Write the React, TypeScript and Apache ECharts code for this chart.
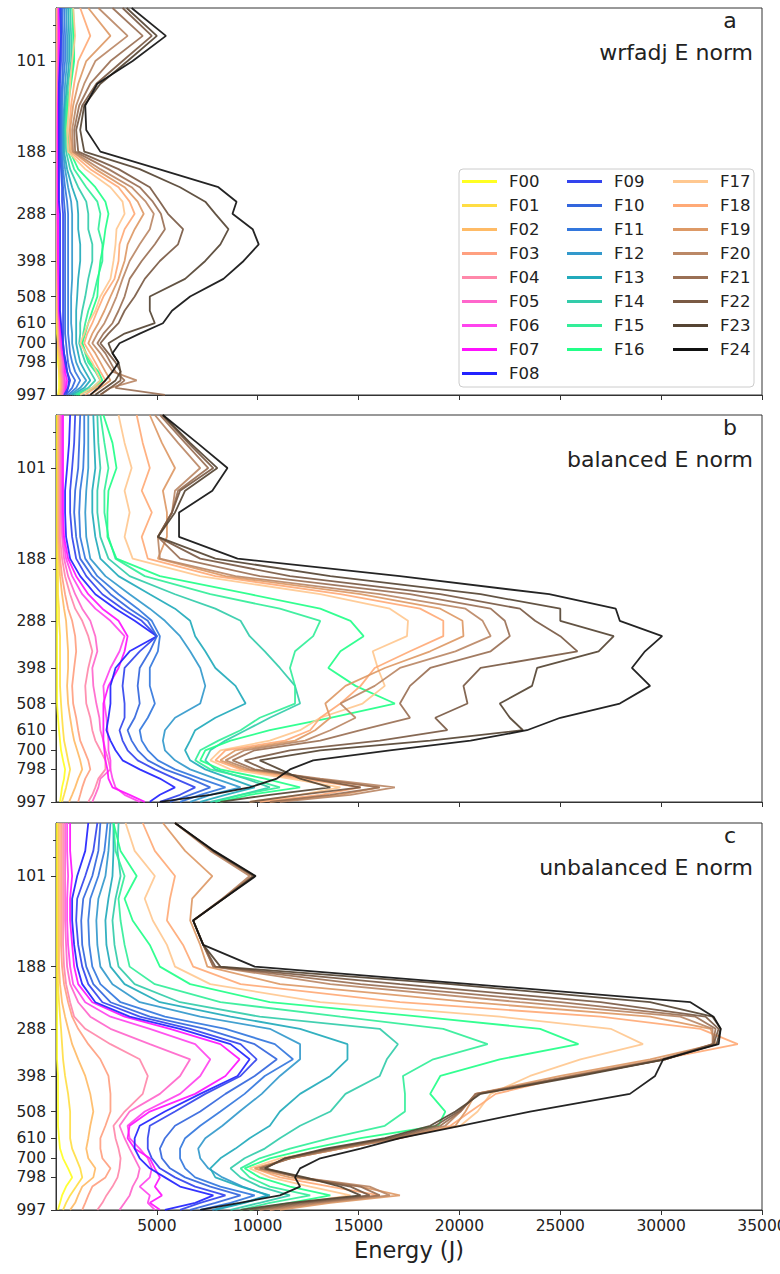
import React, { useEffect, useRef } from "react";
import * as echarts from "echarts";

// Pressure levels (hPa) at which each profile is sampled (top -> bottom)
const LEVELS = [70.2, 85, 101, 118, 137, 162, 188, 212, 240, 265, 288, 320, 355, 398, 450, 508, 560, 610, 655, 700, 750, 798, 850, 903, 950, 997];
const Y_LABELS = [101, 188, 288, 398, 508, 610, 700, 798, 903, 997];
const Y_MINOR = [79, 89, 202];
const X_TICKS = [5000, 10000, 15000, 20000, 25000, 30000, 35000];
const NAMES = ["F00","F01","F02","F03","F04","F05","F06","F07","F08","F09","F10","F11","F12","F13","F14","F15","F16","F17","F18","F19","F20","F21","F22","F23","F24"];
const COLORS = ["#ffff22","#ffdd44","#ffbb66","#ffa080","#ff88aa","#ff66cc","#ff44ee","#ff11ff","#2222ff","#3344ee","#3366dd","#3377dd","#3399cc","#22aabb","#33ccaa","#33ee99","#22ff88","#ffc890","#ffaa77","#dd9966","#bb8866","#9a7055","#7a5a44","#554433","#111111"];
const PANEL_LETTERS = ["a", "b", "c"];
const PANEL_TITLES = ["wrfadj E norm", "balanced E norm", "unbalanced E norm"];

// Panel a: wrfadj E norm (J), one row per forecast F00..F24
const WRFADJ = [
  [50,50,50,50,50,50,50,50,50,50,50,50,50,50,50,50,50,50,50,100,100,100,150,150,150,100],
  [50,50,50,50,50,50,50,50,50,50,50,50,50,50,50,50,50,50,100,100,100,150,150,200,200,150],
  [50,50,50,50,50,50,50,50,50,50,50,50,50,50,50,50,50,100,100,100,150,200,200,250,250,200],
  [50,50,50,50,50,50,50,50,50,50,50,50,50,50,50,100,100,100,150,150,200,250,250,300,300,250],
  [100,100,100,100,50,50,50,50,50,50,50,50,50,100,100,100,100,150,150,200,250,300,300,350,350,300],
  [100,100,100,100,100,50,50,50,50,50,50,100,100,100,100,100,150,150,200,200,300,350,350,400,400,350],
  [150,150,150,100,100,100,100,100,100,100,100,100,100,100,100,150,150,200,200,250,300,400,400,450,450,400],
  [150,150,150,150,100,100,100,100,100,100,100,100,100,100,150,150,150,200,250,300,350,450,450,550,500,450],
  [250,250,200,150,150,150,150,150,150,150,200,200,200,200,200,200,200,250,300,350,400,500,550,650,600,500],
  [200,250,250,200,200,200,200,250,300,300,350,350,350,350,350,350,350,350,350,350,400,450,550,700,600,400],
  [300,350,350,300,250,250,250,300,350,400,450,450,450,450,450,450,450,450,450,500,550,600,700,950,800,500],
  [400,450,450,350,300,300,300,350,450,550,600,600,600,600,600,600,600,600,600,650,700,800,950,1200,1000,600],
  [500,550,550,450,400,350,350,450,600,750,800,800,800,800,800,750,750,750,800,800,900,1000,1200,1500,1200,700],
  [600,650,650,550,450,400,400,550,800,1050,1100,1100,1200,1200,1100,1050,1000,1000,1000,1000,1100,1200,1450,1700,1400,800],
  [700,750,750,600,500,450,500,700,1100,1500,1600,1600,1800,1800,1600,1450,1300,1200,1200,1150,1300,1450,1700,1950,1600,900],
  [800,850,850,700,550,500,600,900,1500,2050,2200,2100,2300,2300,2050,1850,1600,1450,1350,1300,1450,1600,1950,2200,1800,1000],
  [850,900,900,750,600,550,700,1100,1950,2450,2600,2450,2350,2200,2100,2050,1800,1600,1450,1300,1500,1700,2100,2300,1950,1100],
  [850,950,800,700,650,550,600,1450,2700,3300,3400,3000,2950,2850,2700,2200,1950,1600,1400,1200,1500,1800,2000,2200,1800,1200],
  [1200,1700,1100,900,750,650,700,1700,3100,3650,3900,3400,3150,3100,2900,2350,2050,1800,1550,1400,1700,1950,2200,2450,1950,1450],
  [1600,2700,1500,1100,850,700,800,1950,3400,4050,4350,3900,3550,3400,3100,2700,2400,2100,1800,1600,1950,2200,2450,2700,2200,1700],
  [2100,3550,1950,1400,1000,800,850,2200,3750,4450,4850,4650,4150,3650,3300,3000,2700,2400,2050,1800,2200,2500,2800,4000,2700,2200],
  [2800,4300,2700,1700,1150,900,950,2600,4150,4800,5200,5400,4900,4250,3650,3400,3100,2800,2350,2050,2450,2700,2950,3400,2950,5400],
  [3300,4750,3300,2000,1300,1000,1100,3100,4650,5150,5550,6300,6050,5150,4400,3900,3400,3100,2600,2200,2600,2950,3200,3200,2700,2200],
  [3500,5000,3550,2200,1400,1200,1400,4150,6150,7400,7900,8550,8150,7400,6400,4650,4650,4900,3400,2600,2800,3100,3200,2950,2450,1950],
  [3750,5450,3800,2050,1450,1500,2200,5100,8050,8950,8750,9750,10050,9300,8300,6650,5750,5300,4150,3150,2800,3100,2800,2450,2100,1700],
];

// Panel b: balanced E norm (J)
const BALANCED = [
  [50,50,50,50,50,50,50,50,50,50,50,50,50,50,50,50,100,150,200,250,350,450,400,300,250,200],
  [100,100,100,100,100,100,100,100,100,150,150,200,200,200,200,250,300,350,400,500,600,700,600,500,400,300],
  [100,100,100,100,100,100,150,200,300,400,500,550,600,600,550,600,700,800,900,1050,1200,1300,1100,950,800,650],
  [150,150,150,150,150,150,200,300,450,600,800,950,1000,900,800,850,1000,1100,1200,1400,1600,1700,1450,1300,1200,1100],
  [200,200,200,200,200,200,300,450,700,950,1300,1600,1800,1600,1450,1500,1700,1800,1950,2200,2450,2450,2100,1950,1800,1600],
  [250,250,250,250,250,300,400,600,950,1300,1700,1950,2050,1800,1850,2000,2150,2200,2350,2450,2600,2700,2200,2100,1950,1800],
  [300,300,300,300,300,350,500,800,1300,1950,2700,3400,3150,2700,2350,2400,2500,2550,2600,2600,2700,2700,2800,2950,3400,4150],
  [350,350,350,350,350,400,600,1000,1600,2300,3100,3550,3400,3100,2600,2350,2350,2350,2350,2400,2450,2550,2600,2800,3650,4400],
  [700,650,550,450,450,500,700,1200,1950,2950,3900,5000,3650,2950,2700,2700,2600,2500,2700,2950,3300,4150,5150,5900,5150,4650],
  [950,900,800,700,700,800,1000,1500,2300,3300,4250,5000,4150,3400,3300,3400,3400,3150,3300,3550,4050,4900,5900,6900,6150,5150],
  [1200,1150,1100,950,900,1000,1200,1800,2700,3650,4550,5000,4650,4150,4050,4150,3900,3550,3750,4050,4550,5400,6650,7650,6650,5650],
  [1400,1400,1350,1200,1150,1200,1450,2050,3100,4050,4750,5150,5050,4650,4650,4900,4550,4150,4250,4550,5050,5900,7150,8400,7150,6150],
  [1600,1600,1600,1500,1450,1500,1700,2450,3650,4650,5400,6150,6650,7150,7400,7150,5900,5400,5300,5400,5900,6650,7900,9150,7650,6650],
  [1850,1900,1950,1800,1800,1950,2200,3100,4650,5900,6650,6900,7400,7900,8900,9400,7900,6900,6650,6400,6650,7400,8650,9850,8400,7150],
  [2050,2100,2200,2050,2050,2200,2600,3650,5900,7900,9150,9600,10350,11100,11850,12100,10600,9400,8400,7650,7400,7900,9400,10600,9150,7650],
  [2200,2400,2600,2400,2400,2600,2950,4400,7650,11100,13100,12750,11850,11600,11850,11850,10100,9150,8050,7150,6900,7650,9600,11100,9150,7900],
  [2350,2800,3000,2600,2550,2550,3000,5150,9600,13100,14600,15250,14100,13500,14850,16800,13600,10600,8650,7400,7150,8150,10350,12100,9600,8150],
  [3100,3400,3750,3400,3650,3400,3800,7150,13100,16550,17450,17400,15700,15950,16300,15200,13100,12100,10600,8150,7650,8650,11600,14100,12100,9600],
  [4000,4300,4650,4250,4750,4250,4550,7900,14100,18050,19200,19200,17550,15800,15100,14100,13100,12600,11350,8400,7900,9150,12100,15100,13100,10100],
  [4650,5250,5900,5300,5500,5500,5050,8400,15100,19050,20150,20200,18550,16300,14350,13350,13600,12850,11850,8900,8150,9350,12600,16050,14100,10600],
  [4900,6050,7150,5900,5750,5050,5150,8900,16050,20300,21150,21550,19800,17050,15800,14100,14850,13600,12350,9350,8400,9600,13100,16800,14600,11100],
  [5150,6400,7550,6050,5750,5050,6150,10100,17550,21550,22250,22500,21550,18550,17550,17050,17550,15100,13100,9850,8750,9850,12850,16050,13600,10600],
  [5250,6550,7800,6150,5750,5050,7150,11600,19050,23000,23750,25000,25850,21050,20200,20400,18800,19400,16050,11600,9350,10350,12600,15100,12100,9600],
  [5300,6650,8000,6400,5900,5050,7900,13600,21050,25000,25000,27650,26900,23850,23600,22000,22500,23150,18550,13100,10100,11100,12100,13600,10600,8150],
  [5300,7000,8500,7750,6100,6100,9000,17050,24450,27750,27950,30050,29200,28550,29450,27950,25000,23350,20550,16550,12750,11600,10950,9600,7650,5150],
];

// Panel c: unbalanced E norm (J)
const UNBALANCED = [
  [50,50,50,50,50,50,50,50,50,50,50,50,50,100,100,100,100,150,200,350,600,800,500,300,200,100],
  [100,100,100,100,100,100,100,100,150,200,250,300,350,450,600,700,700,700,800,1000,1200,1300,1000,700,500,350],
  [150,150,150,150,150,150,150,200,300,450,600,800,1100,1450,1700,1850,1700,1600,1500,1600,1950,1850,1300,1100,950,700],
  [250,250,250,250,250,250,300,400,600,800,1100,1600,2200,2600,2700,2700,2450,2200,2200,2300,2700,2450,1800,1600,1450,1300],
  [350,350,350,350,350,350,400,500,700,900,1450,2700,4150,4550,4300,3400,2850,2950,3100,3200,3150,3050,2800,2500,2300,2050],
  [450,450,450,450,450,500,550,700,1100,1700,2700,4650,6650,6150,5150,3650,3150,3400,3650,3900,4150,4050,3800,3650,3400,3150],
  [550,550,600,550,550,600,700,850,1450,2700,4650,6900,7650,7150,6150,4400,3550,3650,4150,4550,4750,4650,4150,4650,4550,4900],
  [700,700,800,700,700,800,900,1100,1800,3400,5650,8150,9100,8400,6900,4650,3650,3550,3900,4650,4900,5150,4900,5250,4650,5150],
  [1600,1450,1050,800,800,900,1050,1300,1950,3650,6150,8650,9600,9000,7150,5400,4150,3900,3900,4150,4650,5400,6150,7800,6900,5400],
  [2050,1850,1450,1050,1000,1100,1300,1600,2300,4150,6650,9150,9950,9150,7400,5900,4650,4550,4550,4750,5150,5900,6900,8400,7150,6150],
  [2200,2100,1800,1350,1250,1300,1500,1850,2700,4650,7400,9850,10950,9850,8400,7150,5900,5400,5150,5250,5650,6400,7650,9150,7900,6650],
  [2550,2400,2100,1700,1600,1650,1800,2200,3200,5400,8400,10850,11750,10350,9350,8150,7150,6400,6150,6150,6400,6900,8150,9850,8650,7150],
  [2700,2600,2450,2100,2000,2050,2200,2800,4150,7150,10600,12100,12100,11100,10200,9100,8250,7400,7050,7150,7550,8250,9250,10500,9250,7750],
  [2850,2850,2800,2600,2450,2500,2700,3400,5150,8650,12100,14450,14450,13600,12100,11100,10600,9600,8900,8150,7650,7900,9150,10600,9350,7900],
  [3100,3050,3200,2950,2800,2900,3100,3900,6150,10100,16050,16950,16400,16050,14350,13600,12100,11100,10350,9350,8650,9150,10100,11600,10100,8650],
  [2850,2950,3400,3100,3200,3400,3650,4900,8150,14100,19200,21400,18700,17200,17300,17300,16300,13600,11600,10100,9150,9600,10600,12600,10600,9150],
  [2850,3200,4000,3400,3800,4650,5150,6650,10600,18050,24000,25900,22000,19050,18550,19300,18950,15100,12600,10600,9350,10100,11600,13600,11600,9600],
  [3450,3900,4900,4400,4800,5500,5900,7650,13100,22000,27500,29100,26000,23500,21550,20900,20050,16550,13600,11100,9600,10600,12600,14600,12100,10100],
  [4300,4900,5900,5650,5500,6300,6800,9150,17050,27000,31950,33800,29950,25500,21800,20550,19550,17050,14100,11600,9850,11100,13600,16050,13100,10600],
  [5300,6400,7750,6750,6650,7150,7500,11100,20550,29450,32450,32700,29450,25000,20800,20300,19800,17050,14100,11600,9850,11600,15100,17050,13600,11100],
  [5900,7650,9600,8250,6800,7300,7800,13600,23000,30950,32550,32550,29950,25500,20800,20050,19300,17050,14100,11600,10100,12100,15550,16550,13100,10600],
  [5900,7750,9750,8250,6800,7300,7800,15100,25000,31700,32700,32550,30200,25750,20800,20050,19050,16800,13850,11600,10100,12100,15100,16050,12600,10100],
  [5900,7800,9800,8300,6800,7300,7900,17050,27000,32200,32850,32600,30200,25750,20950,19950,18800,16550,13600,11350,10350,12100,14600,15550,12100,9600],
  [5900,7800,9850,8300,6800,7300,8150,19550,29450,32550,32950,32750,30200,26000,21050,19800,18550,16300,13350,11350,10350,12350,14100,15100,11600,9150],
  [5900,7850,9900,8300,6800,7300,9850,20550,31450,32600,32950,32850,30100,29700,28450,23500,20050,17050,15100,13100,12100,11850,12100,11100,9100,7150],
];

const PANELS = [WRFADJ, BALANCED, UNBALANCED];
const FONT = '"DejaVu Sans", "Liberation Sans", sans-serif';

const GRID_TOPS = [8, 415, 823];
const PANEL_H = 387;

export default function App() {
  const ref = useRef<HTMLDivElement>(null);
  useEffect(() => {
    document.body.style.margin = "0";
    if (!ref.current) return;
    const chart = echarts.init(ref.current, null, { renderer: "svg" });

    const grids = GRID_TOPS.map((t) => ({
      left: 56, right: 18, top: t, height: PANEL_H,
      show: true, borderColor: "#333", borderWidth: 1,
      containLabel: false, outerBoundsMode: "none",
    }));

    const xAxes = GRID_TOPS.map((_, i) => ({
      type: "value", gridIndex: i, min: 0, max: 35000,
      splitLine: { show: false },
      axisLine: { show: true, lineStyle: { color: "#333", width: 1 } },
      axisTick: { show: true, customValues: X_TICKS, length: 5, lineStyle: { color: "#333" } },
      axisLabel: {
        show: i === 2, customValues: X_TICKS, fontSize: 15.5, color: "#222", margin: 8,
        fontFamily: FONT, hideOverlap: false, showMinLabel: true, showMaxLabel: true,
        formatter: (v: number) => String(v),
      },
      name: i === 2 ? "Energy (J)" : "",
      nameLocation: "middle", nameGap: 28,
      nameTextStyle: { fontSize: 22.5, color: "#222", fontFamily: FONT },
    }));

    const yAxes: any[] = [];
    GRID_TOPS.forEach((_, i) => {
      yAxes.push({
        type: "log", logBase: 10, gridIndex: i, min: 70.2, max: 998, inverse: true,
        splitLine: { show: false }, minorTick: { show: false }, minorSplitLine: { show: false },
        axisLine: { show: true, lineStyle: { color: "#333", width: 1 } },
        axisTick: { show: true, customValues: Y_LABELS, length: 5, lineStyle: { color: "#333" } },
        axisLabel: {
          customValues: Y_LABELS, fontSize: 15.5, color: "#222", margin: 10, fontFamily: FONT,
          hideOverlap: false, showMinLabel: true, showMaxLabel: true,
          formatter: (v: number) => String(Math.round(v)),
        },
      });
    });
    GRID_TOPS.forEach((_, i) => {
      yAxes.push({
        type: "log", logBase: 10, gridIndex: i, min: 70.2, max: 998, inverse: true, position: "left",
        splitLine: { show: false }, minorTick: { show: false },
        axisLine: { show: false },
        axisTick: { show: true, customValues: Y_MINOR, length: 3, lineStyle: { color: "#333" } },
        axisLabel: { show: false },
      });
    });

    const series: any[] = [];
    PANELS.forEach((panel, pi) => {
      panel.forEach((vals, si) => {
        series.push({
          type: "line", name: NAMES[si], xAxisIndex: pi, yAxisIndex: pi,
          data: vals.map((v, k) => [v, LEVELS[k]]),
          showSymbol: false, symbol: "none", silent: true, clip: true,
          lineStyle: { width: 1.8, color: COLORS[si], opacity: 0.92 },
          itemStyle: { color: COLORS[si] },
          emphasis: { disabled: true },
        });
      });
    });

    const legendCommon = {
      orient: "vertical", top: 173, padding: 0, icon: "rect", itemWidth: 35, itemHeight: 3, itemGap: 7,
      selectedMode: false,
      textStyle: { fontSize: 16.5, color: "#222", fontFamily: FONT, lineHeight: 16, padding: [0, 0, 0, 7] },
    };
    const legends = [
      { ...legendCommon, left: 462, data: NAMES.slice(0, 9) },
      { ...legendCommon, left: 567, data: NAMES.slice(9, 17) },
      { ...legendCommon, left: 673, data: NAMES.slice(17) },
    ];

    const graphics: any[] = [
      { type: "rect", z: 0, shape: { x: 459, y: 169, width: 295, height: 218, r: 4 }, style: { fill: "rgba(255,255,255,0.8)", stroke: "#cccccc", lineWidth: 1 } },
    ];
    GRID_TOPS.forEach((t, i) => {
      graphics.push({ type: "text", z: 10, x: 730, y: t + 12, style: { text: PANEL_LETTERS[i], fontSize: 22, fontFamily: FONT, fill: "#222", align: "center", verticalAlign: "middle" } });
      graphics.push({ type: "text", z: 10, x: 753, y: t + 44, style: { text: PANEL_TITLES[i], fontSize: 22, fontFamily: FONT, fill: "#222", align: "right", verticalAlign: "middle" } });
    });

    chart.setOption({
      animation: false,
      backgroundColor: "#ffffff",
      textStyle: { fontFamily: FONT },
      grid: grids,
      xAxis: xAxes,
      yAxis: yAxes,
      legend: legends,
      graphic: graphics,
      series,
    });
    return () => chart.dispose();
  }, []);
  return <div ref={ref} style={{ width: 780, height: 1274 }} />;
}
